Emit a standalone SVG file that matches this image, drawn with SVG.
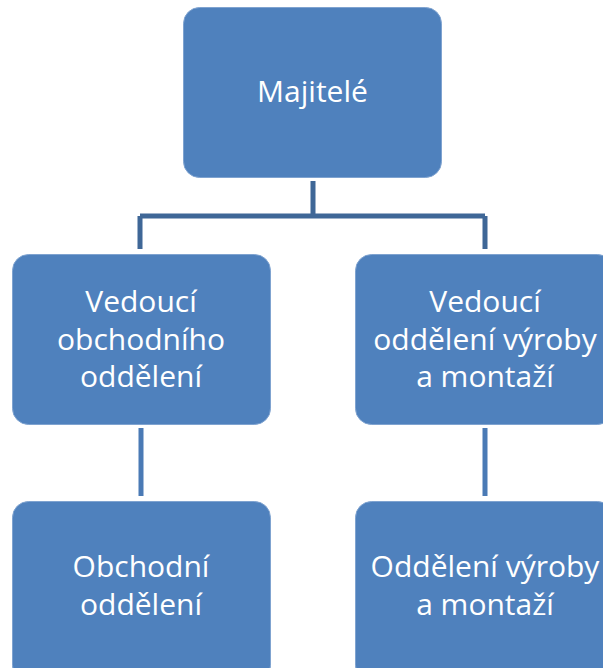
<svg xmlns="http://www.w3.org/2000/svg" width="603" height="668" viewBox="0 0 603 668">
<style>
.box{fill:#4F81BD;stroke:#7FA3D0;stroke-width:1}
.t{font-family:"Open Sans","Liberation Sans",sans-serif;font-size:30px;fill:#FFFFFF;text-anchor:middle}
.c1{stroke:#3F6797;stroke-width:5;fill:none}
.c2{stroke:#4A7AB5;stroke-width:5;fill:none}
</style>
<rect width="603" height="668" fill="#FFFFFF"/>
<g id="connectors">
<path class="c1" d="M313 181V216M140 216H485M140 216V249M485 216V249"/>
<path class="c2" d="M141 428V496M485 428V496"/>
</g>
<g id="majitele">
<rect class="box" x="183.5" y="7.5" width="258" height="170" rx="16"/>
<text class="t" x="312.5" y="102">Majitelé</text>
</g>
<g id="vedouci-obchod">
<rect class="box" x="12.5" y="254.5" width="258" height="170" rx="16"/>
<text class="t" x="141" y="312">Vedoucí</text>
<text class="t" x="141" y="350">obchodního</text>
<text class="t" x="141" y="387">oddělení</text>
</g>
<g id="vedouci-vyroba">
<rect class="box" x="355.5" y="254.5" width="258" height="170" rx="16"/>
<text class="t" x="485" y="312">Vedoucí</text>
<text class="t" x="485" y="350">oddělení výroby</text>
<text class="t" x="485" y="387">a montaží</text>
</g>
<g id="obchodni">
<rect class="box" x="12.5" y="501.5" width="258" height="180" rx="16"/>
<text class="t" x="141" y="577">Obchodní</text>
<text class="t" x="141" y="615">oddělení</text>
</g>
<g id="vyroba">
<rect class="box" x="355.5" y="501.5" width="258" height="180" rx="16"/>
<text class="t" x="485" y="577">Oddělení výroby</text>
<text class="t" x="485" y="615">a montaží</text>
</g>
</svg>
